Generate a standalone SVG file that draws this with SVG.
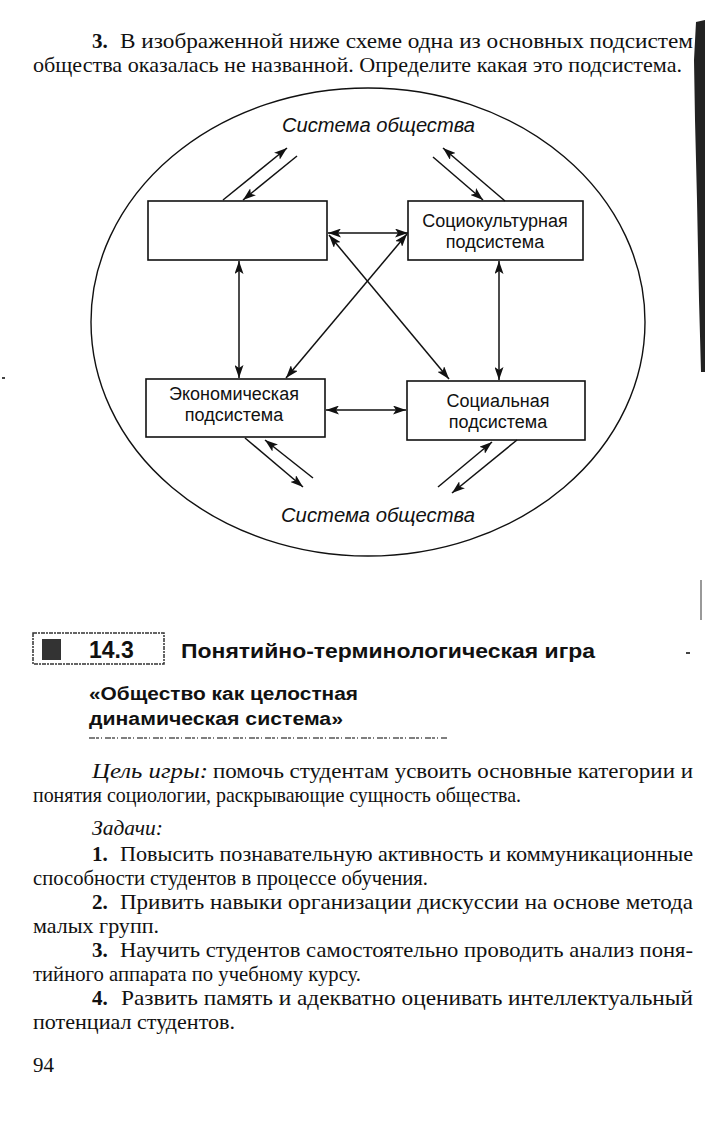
<svg xmlns="http://www.w3.org/2000/svg" width="705" height="1144" viewBox="0 0 705 1144">
<style>
.bg{fill:#fff}
.box{fill:#fff;stroke:#111;stroke-width:1.6}
.lbl{font-family:"Liberation Sans",Arial,sans-serif;font-size:18px;fill:#111;text-anchor:middle}
.sys{font-family:"Liberation Sans",Arial,sans-serif;font-size:20px;font-style:italic;fill:#111}
.con line{stroke:#111;stroke-width:1.5;fill:none}
.body{font-family:"Liberation Serif","Times New Roman",serif;font-size:21px;fill:#111}
.b{font-weight:bold}
.i{font-style:italic}
.hd{font-family:"Liberation Sans",Arial,sans-serif;font-weight:bold;fill:#111}
</style>
<defs>
<marker id="ah" markerUnits="userSpaceOnUse" markerWidth="13" markerHeight="9" refX="13" refY="4.5" orient="auto-start-reverse" viewBox="0 0 13 9">
<path d="M0,0 L13,4.5 L0,9 L3,4.5 z" fill="#111"/>
</marker>
</defs>
<rect class="bg" x="0" y="0" width="705" height="1144"/>

<g id="task-text">
<text class="body b" x="92" y="48">3.</text>
<text class="body" x="120" y="48" textLength="573" lengthAdjust="spacingAndGlyphs">В изображенной ниже схеме одна из основных подсистем</text>
<text class="body" x="33" y="72" textLength="649" lengthAdjust="spacingAndGlyphs">общества оказалась не названной. Определите какая это подсистема.</text>
</g>

<g id="scan-edge">
<path d="M696,22 L705,20 L705,372 L701,372 L699,300 L697,200 L695,120 L694,60 z" fill="#222"/>
<rect x="700" y="580" width="2" height="40" fill="#999"/>
<rect x="686" y="652" width="4" height="2" fill="#444"/>
<rect x="2" y="377" width="3" height="2" fill="#444"/>
</g>

<g id="society-system">
<ellipse cx="368" cy="322" rx="277" ry="234" fill="none" stroke="#111" stroke-width="1.4"/>
<text class="sys" x="282" y="132" textLength="193" lengthAdjust="spacingAndGlyphs">Система общества</text>
<text class="sys" x="281" y="522" textLength="194" lengthAdjust="spacingAndGlyphs">Система общества</text>
</g>

<g id="unnamed-subsystem">
<rect class="box" x="148" y="201" width="179" height="59"/>
</g>
<g id="sociocultural-subsystem">
<rect class="box" x="408" y="201" width="175" height="59"/>
<text class="lbl" x="495" y="227">Социокультурная</text>
<text class="lbl" x="495" y="248">подсистема</text>
</g>
<g id="economic-subsystem">
<rect class="box" x="146" y="379" width="179" height="58"/>
<text class="lbl" x="234" y="400">Экономическая</text>
<text class="lbl" x="234" y="421">подсистема</text>
</g>
<g id="social-subsystem">
<rect class="box" x="407" y="381" width="178" height="59"/>
<text class="lbl" x="498" y="407">Социальная</text>
<text class="lbl" x="498" y="428">подсистема</text>
</g>

<g id="connectors" class="con">
<line x1="223" y1="200" x2="287" y2="148" marker-end="url(#ah)"/>
<line x1="297" y1="156" x2="243" y2="200" marker-end="url(#ah)"/>
<line x1="433" y1="157" x2="483" y2="200" marker-end="url(#ah)"/>
<line x1="505" y1="201" x2="443" y2="148" marker-end="url(#ah)"/>
<line x1="328" y1="233" x2="408" y2="233" marker-start="url(#ah)" marker-end="url(#ah)"/>
<line x1="329" y1="235" x2="449" y2="379" marker-start="url(#ah)" marker-end="url(#ah)"/>
<line x1="407" y1="234" x2="286" y2="378" marker-start="url(#ah)" marker-end="url(#ah)"/>
<line x1="239" y1="261" x2="239" y2="378" marker-start="url(#ah)" marker-end="url(#ah)"/>
<line x1="499" y1="261" x2="499" y2="380" marker-start="url(#ah)" marker-end="url(#ah)"/>
<line x1="326" y1="410" x2="406" y2="410" marker-start="url(#ah)" marker-end="url(#ah)"/>
<line x1="245" y1="438" x2="303" y2="487" marker-end="url(#ah)"/>
<line x1="313" y1="478" x2="265" y2="440" marker-end="url(#ah)"/>
<line x1="438" y1="487" x2="492" y2="442" marker-end="url(#ah)"/>
<line x1="517" y1="440" x2="452" y2="493" marker-end="url(#ah)"/>
</g>

<g id="section-header">
<rect x="33" y="633" width="131" height="31" fill="none" stroke="#333" stroke-width="1.5" stroke-dasharray="4 1 2 1"/>
<rect x="42" y="639" width="19" height="21" fill="#333"/>
<text class="hd" x="89" y="658" font-size="23">14.3</text>
<text class="hd" x="181" y="658" font-size="21" textLength="414" lengthAdjust="spacingAndGlyphs">Понятийно-терминологическая игра</text>
<text class="hd" x="89" y="700" font-size="18" textLength="269" lengthAdjust="spacingAndGlyphs">«Общество как целостная</text>
<text class="hd" x="89" y="725" font-size="18" textLength="254" lengthAdjust="spacingAndGlyphs">динамическая система»</text>
<line x1="89" y1="738" x2="448" y2="738" stroke="#555" stroke-width="1.3" stroke-dasharray="6 1 3 2 1 3"/>
</g>

<g id="body-text">
<text class="body i" x="92" y="778" textLength="116" lengthAdjust="spacingAndGlyphs">Цель игры:</text>
<text class="body" x="213" y="778" textLength="480" lengthAdjust="spacingAndGlyphs">помочь студентам усвоить основные категории и</text>
<text class="body" x="33" y="802" textLength="488" lengthAdjust="spacingAndGlyphs">понятия социологии, раскрывающие сущность общества.</text>
<text class="body i" x="92" y="835" textLength="71" lengthAdjust="spacingAndGlyphs">Задачи:</text>
<text class="body b" x="92" y="861">1.</text>
<text class="body" x="120" y="861" textLength="573" lengthAdjust="spacingAndGlyphs">Повысить познавательную активность и коммуникационные</text>
<text class="body" x="33" y="885" textLength="395" lengthAdjust="spacingAndGlyphs">способности студентов в процессе обучения.</text>
<text class="body b" x="92" y="909">2.</text>
<text class="body" x="120" y="909" textLength="573" lengthAdjust="spacingAndGlyphs">Привить навыки организации дискуссии на основе метода</text>
<text class="body" x="33" y="933" textLength="126" lengthAdjust="spacingAndGlyphs">малых групп.</text>
<text class="body b" x="92" y="957">3.</text>
<text class="body" x="120" y="957" textLength="573" lengthAdjust="spacingAndGlyphs">Научить студентов самостоятельно проводить анализ поня-</text>
<text class="body" x="33" y="981" textLength="328" lengthAdjust="spacingAndGlyphs">тийного аппарата по учебному курсу.</text>
<text class="body b" x="92" y="1005">4.</text>
<text class="body" x="121" y="1005" textLength="572" lengthAdjust="spacingAndGlyphs">Развить память и адекватно оценивать интеллектуальный</text>
<text class="body" x="33" y="1029" textLength="202" lengthAdjust="spacingAndGlyphs">потенциал студентов.</text>
<text class="body" x="33" y="1072">94</text>
</g>
</svg>
